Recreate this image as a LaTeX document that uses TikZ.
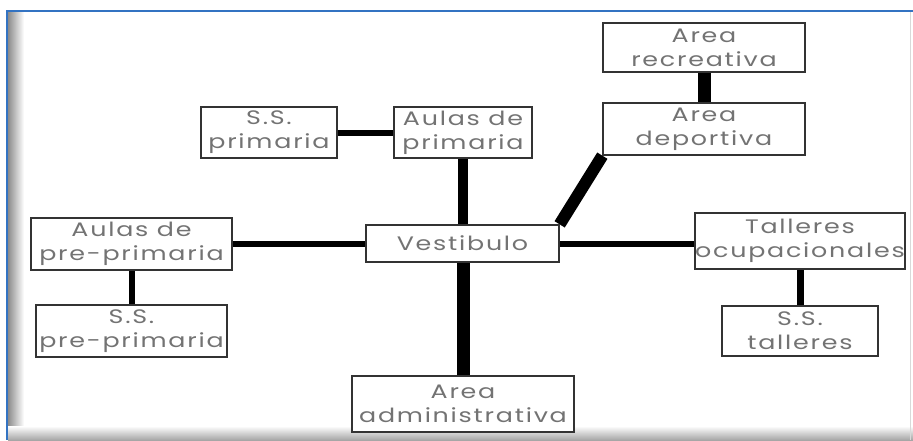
\documentclass[tikz,border=0pt]{standalone}
\usepackage{fontspec}
\setmainfont{Poppins}[FakeStretch=1.3, LetterSpace=9]
\usetikzlibrary{backgrounds}
\pgfdeclarelayer{canvas}
\pgfsetlayers{canvas,background,main}
\begin{document}
\begin{tikzpicture}[x=1pt,y=-1pt,
  box/.style={draw=black!80, line width=1.3pt, fill=white, align=center,
    inner sep=0pt, font=\fontsize{19.5}{24}\selectfont, text=black!55},
  conn/.style={line width=#1, draw=black}]
\useasboundingbox (0,0) rectangle (913,440);
% nodes
\node[box, minimum width=136pt, minimum height=51pt] (ssp) at (269,132.5) {S.S.\\primaria};
\node[box, minimum width=138pt, minimum height=51pt] (ap) at (463,132.5) {Aulas de\\primaria};
\node[box, minimum width=202pt, minimum height=49pt] (ar) at (704,47.5) {Area\\recreativa};
\node[box, minimum width=202pt, minimum height=52pt] (ad) at (704,129) {Area\\deportiva};
\node[box, minimum width=201pt, minimum height=52pt] (app) at (131.5,244) {Aulas de\\pre-primaria};
\node[box, minimum width=191pt, minimum height=52pt] (sspp) at (131.5,331) {S.S.\\pre-primaria};
\node[box, minimum width=193pt, minimum height=37pt] (v) at (462.5,243.5) {Vestibulo};
\node[box, minimum width=222pt, minimum height=56pt] (adm) at (463,404) {Area\\administrativa};
\node[box, minimum width=210pt, minimum height=56pt] (tal) at (800,241) {Talleres\\ocupacionales};
\node[box, minimum width=156pt, minimum height=50pt] (sst) at (800,331) {S.S.\\talleres};
% canvas and frame
\begin{pgfonlayer}{canvas}
\fill[white] (0,0) rectangle (913,440);
\shade[left color=black!45, right color=white] (8,11) rectangle (24,440);
\shade[top color=white, bottom color=black!35] (8,426) rectangle (913,440);
\draw[black!15, line width=1pt] (910,12) -- (910,440);
\draw[blue!55!cyan!70!black!80, line width=2.5pt] (6,11) -- (913,11);
\draw[blue!55!cyan!70!black!80, line width=2.5pt] (7,10) -- (7,440);
\end{pgfonlayer}
% connectors
\begin{scope}[on background layer]
\draw[conn=6pt] (ssp.east) -- (ap.west |- ssp.east);
\draw[conn=10pt] (ap.south) -- (ap.south |- v.north);
\draw[conn=13pt] (ar.south) -- (ad.north);
\draw[conn=12pt] (ad.south west) -- (v.north east);
\draw[conn=6pt] (app.east) -- (v.west |- app.east);
\draw[conn=6pt] (app.south) -- (sspp.north);
\draw[conn=13pt] (adm.north |- v.south) -- (adm.north);
\draw[conn=6pt] (v.east) -- (tal.west |- v.east);
\draw[conn=7pt] (tal.south) -- (sst.north);
\end{scope}
\end{tikzpicture}
\end{document}
